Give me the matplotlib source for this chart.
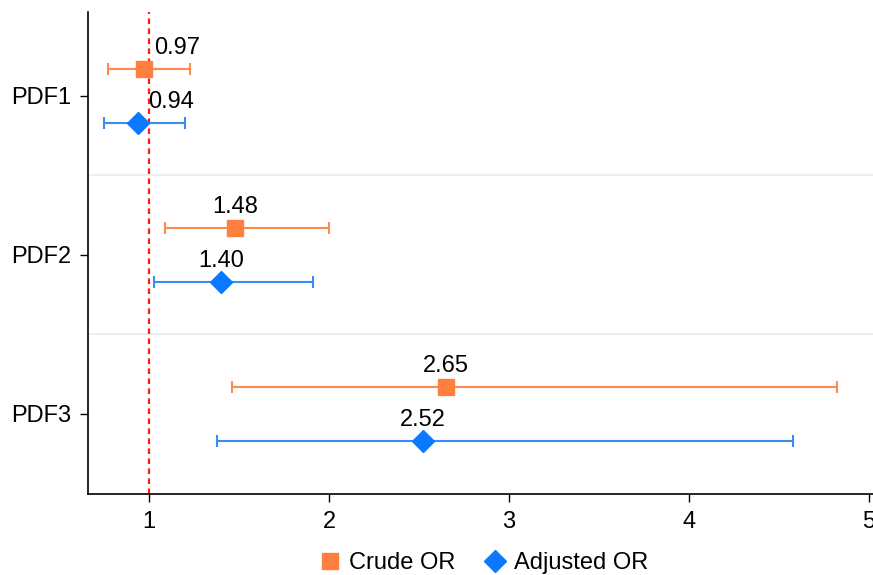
import matplotlib
matplotlib.use("Agg")
import matplotlib.pyplot as plt
from matplotlib.lines import Line2D

FS = 17
plt.rcParams.update({
    "font.family": ["Liberation Sans", "DejaVu Sans"],
    "font.size": FS,
})

# data
groups = ["PDF1", "PDF2", "PDF3"]
crude_or = [0.97, 1.48, 2.65]
crude_lo = [0.77, 1.09, 1.46]
crude_hi = [1.23, 2.00, 4.82]
adj_or = [0.94, 1.40, 2.52]
adj_lo = [0.75, 1.03, 1.38]
adj_hi = [1.20, 1.91, 4.58]

ORANGE = "#FF7F3F"
ORANGE_LINE = "#FF8A50"
BLUE = "#0A78FF"
BLUE_LINE = "#3A8CF2"

fig = plt.figure(figsize=(8.73, 5.75), dpi=100)
ax = fig.add_axes([88 / 873, 1 - 494 / 575, 1 - 88 / 873, (494 - 12) / 575])

ypos = list(range(len(groups)))
off = 0.17

for i in ypos:
    # crude
    ax.errorbar(crude_or[i], i - off,
                xerr=[[crude_or[i] - crude_lo[i]], [crude_hi[i] - crude_or[i]]],
                fmt="s", color=ORANGE, ecolor=ORANGE_LINE, elinewidth=1.5,
                capsize=4, capthick=1.5, markersize=11, zorder=3)
    # adjusted
    ax.errorbar(adj_or[i], i + off,
                xerr=[[adj_or[i] - adj_lo[i]], [adj_hi[i] - adj_or[i]]],
                fmt="D", color=BLUE, ecolor=BLUE_LINE, elinewidth=1.5,
                capsize=4, capthick=1.5, markersize=11, zorder=3)
    # value labels (shift right when marker sits on the null line)
    for val, y in ((crude_or[i], i - off), (adj_or[i], i + off)):
        dx = 24 if val < 1 else 0
        ax.annotate(f"{val:.2f}", (val, y), textcoords="offset points",
                    xytext=(dx, 7), ha="center", va="bottom", fontsize=FS)

ax.axvline(1, color="#FF1A1A", ls=(0, (2.5, 2)), lw=1.6, zorder=2)
for sep in (0.5, 1.5):
    ax.axhline(sep, color="#E6ECF0", lw=1.2, zorder=1)

ax.set_xlim(1 - 61 / 180, 5 + 4 / 180)
ax.set_ylim(2 + 80 / 159, -84 / 159)
ax.set_xticks([1, 2, 3, 4, 5])
ax.set_yticks(ypos)
ax.set_yticklabels(groups)
ax.tick_params(axis="both", length=6, width=1, labelsize=FS, pad=6)
for s in ("top", "right"):
    ax.spines[s].set_visible(False)
for s in ("left", "bottom"):
    ax.spines[s].set_linewidth(1.2)

handles = [
    Line2D([], [], marker="s", color=ORANGE, ls="none", markersize=11),
    Line2D([], [], marker="D", color=BLUE, ls="none", markersize=11),
]
fig.legend(handles, ["Crude OR", "Adjusted OR"], loc="center",
           bbox_to_anchor=(483 / 873, 1 - 563 / 575), ncol=2, frameon=False,
           fontsize=FS, handletextpad=0.3, columnspacing=1.2, handlelength=1.0)

fig.savefig("out.png", dpi=100)
